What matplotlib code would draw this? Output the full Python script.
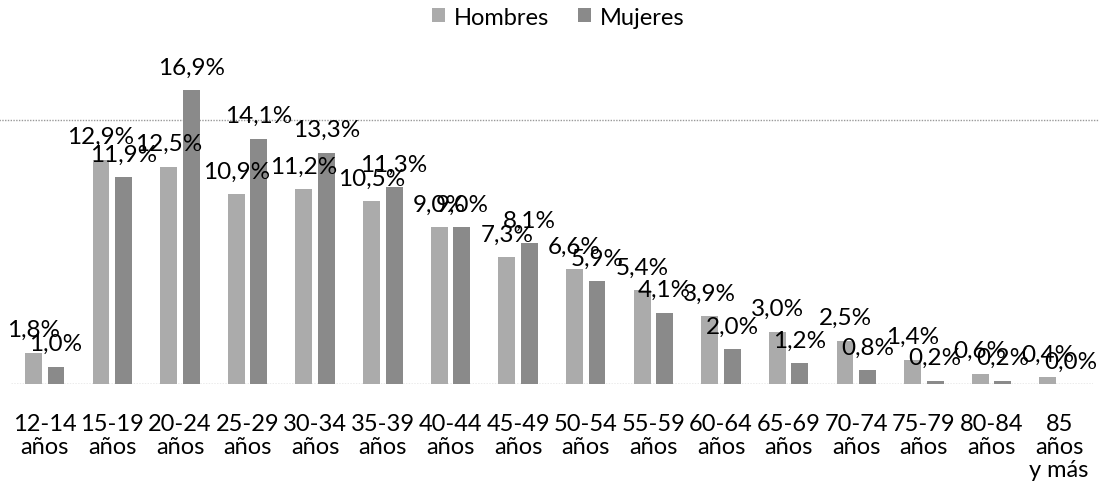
import matplotlib.pyplot as plt
import numpy as np

plt.rcParams['font.family'] = ['Lato', 'DejaVu Sans']

grupos = ['12-14\naños', '15-19\naños', '20-24\naños', '25-29\naños', '30-34\naños',
          '35-39\naños', '40-44\naños', '45-49\naños', '50-54\naños', '55-59\naños',
          '60-64\naños', '65-69\naños', '70-74\naños', '75-79\naños', '80-84\naños',
          '85\naños\ny más']
hombres = [1.8, 12.9, 12.5, 10.9, 11.2, 10.5, 9.0, 7.3, 6.6, 5.4, 3.9, 3.0, 2.5, 1.4, 0.6, 0.4]
mujeres = [1.0, 11.9, 16.9, 14.1, 13.3, 11.3, 9.0, 8.1, 5.9, 4.1, 2.0, 1.2, 0.8, 0.2, 0.2, 0.0]

col_h = '#ababab'
col_m = '#8a8a8a'

fig = plt.figure(figsize=(10.99, 5.02), dpi=100)
ax = fig.add_axes([0.0099, 0.233, 0.9846, 0.624])

x = np.arange(len(grupos))
w = 0.25
off = 0.167
bh = ax.bar(x - off, hombres, w, color=col_h, label='Hombres')
bm = ax.bar(x + off, mujeres, w, color=col_m, label='Mujeres')

# etiquetas de valor
for bars in (bh, bm):
    for b in bars:
        v = b.get_height()
        ax.annotate(f'{v:.1f}%'.replace('.', ','), (b.get_x() + b.get_width() / 2, v),
                    xytext=(0, 9), textcoords='offset points',
                    ha='center', va='bottom', fontsize=17.5, color='black', clip_on=False)

# linea gris horizontal (escaneo)
ax.axhline(15.15, xmin=-0.02, xmax=1.02, color='#999999', lw=1, ls=(0, (1, 1)), clip_on=False, zorder=0)
ax.axhline(0, color='#999999', lw=1, ls=(0, (1, 1)), zorder=0)

ax.set_xlim(-0.5, len(grupos) - 0.5)
ax.set_ylim(0, 18)
ax.set_xticks(x)
ax.set_xticklabels(grupos, fontsize=17, linespacing=1.1, va='top')
ax.tick_params(axis='x', length=0, pad=21)
ax.set_yticks([])
for s in ax.spines.values():
    s.set_visible(False)

fig.legend(handles=[bh, bm], loc='center', bbox_to_anchor=(0.508, 0.964), ncol=2,
           frameon=False, fontsize=17, handlelength=0.55, handleheight=0.55,
           handletextpad=0.4, columnspacing=1.2)

fig.savefig('out.png', dpi=100)
